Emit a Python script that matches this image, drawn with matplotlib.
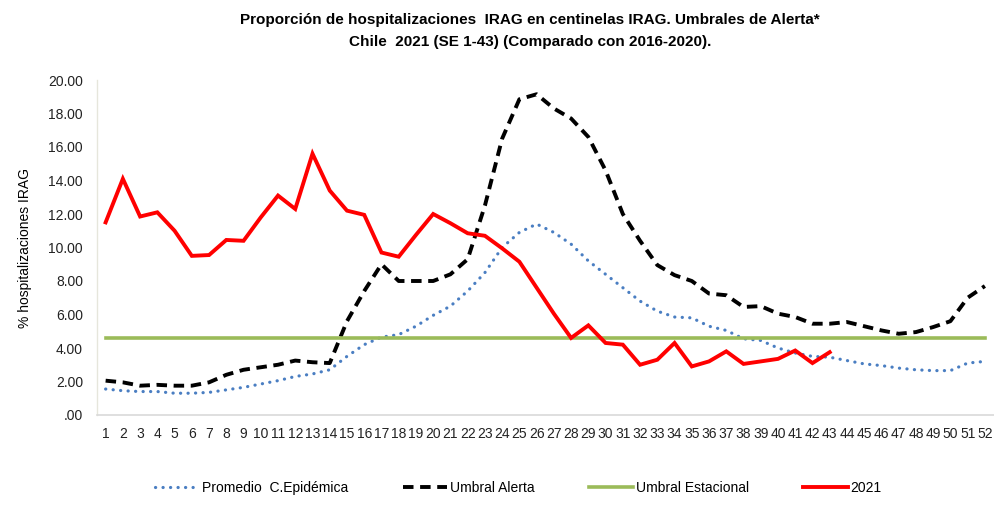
import matplotlib
matplotlib.use("Agg")
import matplotlib.pyplot as plt
import numpy as np

weeks = list(range(1, 53))

promedio = [1.55, 1.45, 1.4, 1.4, 1.3, 1.3, 1.35, 1.5, 1.65, 1.85,
            2.05, 2.3, 2.45, 2.7, 3.5, 4.2, 4.65, 4.8, 5.3, 5.95,
            6.5, 7.4, 8.5, 10.0, 10.9, 11.4, 10.9, 10.2, 9.2, 8.4,
            7.6, 6.8, 6.2, 5.85, 5.8, 5.3, 5.05, 4.55, 4.45, 4.0,
            3.7, 3.5, 3.45, 3.25, 3.05, 2.95, 2.8, 2.7, 2.65, 2.65,
            3.1, 3.2]

umbral_alerta = [2.05, 1.95, 1.75, 1.8, 1.75, 1.75, 1.95, 2.4, 2.7, 2.85,
                 3.0, 3.25, 3.15, 3.1, 5.6, 7.4, 9.0, 8.0, 8.0, 8.0,
                 8.4, 9.3, 12.5, 16.5, 18.85, 19.15, 18.3, 17.7, 16.6, 14.6,
                 12.0, 10.4, 8.95, 8.35, 8.0, 7.25, 7.15, 6.45, 6.5, 6.05,
                 5.85, 5.45, 5.45, 5.55, 5.3, 5.05, 4.85, 4.95, 5.25, 5.6,
                 7.0, 7.7]

umbral_estacional = [4.6] * 52

y2021 = [11.5, 14.1, 11.85, 12.1, 11.0, 9.5, 9.55, 10.45, 10.4, 11.8,
         13.1, 12.3, 15.6, 13.4, 12.2, 11.95, 9.7, 9.45, 10.75, 12.0,
         11.45, 10.85, 10.7, 9.95, 9.15, 7.6, 6.05, 4.6, 5.35, 4.3,
         4.2, 3.0, 3.3, 4.3, 2.9, 3.2, 3.8, 3.05, 3.2, 3.35,
         3.85, 3.1, 3.75]

yticks = [0, 2, 4, 6, 8, 10, 12, 14, 16, 18, 20]
ytick_labels = [".00", "2.00", "4.00", "6.00", "8.00", "10.00", "12.00",
                "14.00", "16.00", "18.00", "20.00"]

plt.rcParams['font.family'] = ['Liberation Sans', 'DejaVu Sans']

fig = plt.figure(figsize=(9.95, 5.05), dpi=100)
ax = fig.add_axes([97/995, 1 - 415/505, (993.5 - 97)/995, (415 - 80)/505])

ax.plot(weeks, promedio, color="#4A7EC2", lw=2.3, linestyle=(0, (0.05, 2.3)),
        dash_capstyle="round", label="Promedio  C.Epidémica")
ax.plot(weeks, umbral_alerta, color="black", lw=2.8, linestyle=(0, (2.7, 1.7)),
        label="Umbral Alerta")
ax.plot(weeks, umbral_estacional, color="#9BBB59", lw=2.6,
        label="Umbral Estacional")
ax.plot(weeks[:len(y2021)], y2021, color="#FF0000", lw=2.8,
        label="2021", solid_joinstyle="miter")

ax.set_xlim(0.5, 52.5)
ax.set_ylim(0, 20)
ax.set_xticks(weeks)
ax.set_xticklabels([str(w) for w in weeks], fontsize=10)
ax.set_yticks(yticks)
ax.set_yticklabels(ytick_labels, fontsize=10)
ax.tick_params(axis="both", length=0, colors="#222222")
ax.tick_params(axis="x", pad=8.5)
ax.tick_params(axis="y", pad=10)
for s in ["top", "right"]:
    ax.spines[s].set_visible(False)
ax.spines["left"].set_color("#E6E6DC")
ax.spines["bottom"].set_color("#D9D9D9")
ax.spines["left"].set_linewidth(1.0)
ax.spines["bottom"].set_linewidth(1.2)

ax.set_ylabel("% hospitalizaciones IRAG", fontsize=10, labelpad=12)

fig.text(0.533, 0.975, "Proporción de hospitalizaciones  IRAG en centinelas IRAG. Umbrales de Alerta*\n"
         "Chile  2021 (SE 1-43) (Comparado con 2016-2020).",
         ha="center", va="top", fontsize=11, fontweight="bold", linespacing=1.72)

leg = fig.legend(loc="center", bbox_to_anchor=(0.521, 1 - 488/505), ncol=4,
                 frameon=False, fontsize=10, columnspacing=3.9, handlelength=3.2,
                 handletextpad=0.2)

fig.savefig("out.png", dpi=100)
